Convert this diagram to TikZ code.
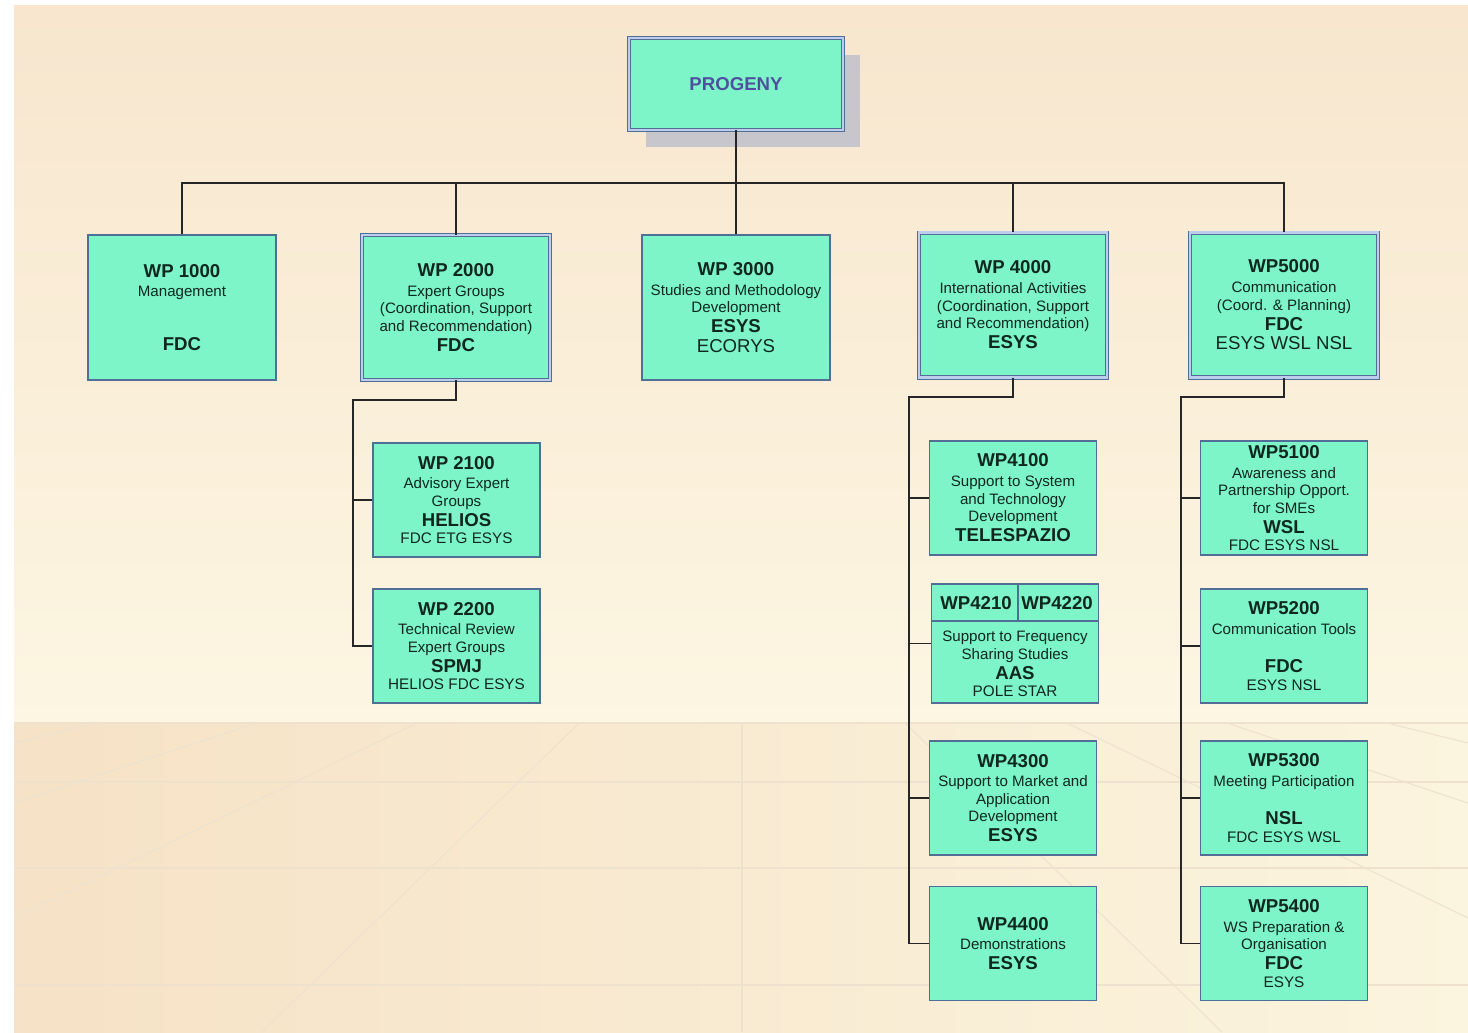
\documentclass[tikz,border=0pt]{standalone}
\usepackage{fontspec}
\setmainfont{Liberation Sans}
\usetikzlibrary{shadows}

\definecolor{bgtop}{RGB}{248,230,206}
\definecolor{bgmid}{RGB}{252,246,226}
\definecolor{floorl}{RGB}{246,226,198}
\definecolor{floorr}{RGB}{251,244,222}
\definecolor{floorline}{RGB}{238,226,206}
\definecolor{mint}{RGB}{125,245,200}
\definecolor{boxline}{RGB}{80,110,150}
\definecolor{boxgap}{RGB}{190,205,235}
\definecolor{inktext}{RGB}{15,40,30}
\definecolor{headtext}{RGB}{80,80,160}
\definecolor{shadowgray}{RGB}{200,198,205}

\newcommand{\wpbf}{\fontsize{10.6}{12}\selectfont\bfseries}
\newcommand{\wpsm}{\fontsize{8.6}{10}\selectfont}
\newcommand{\wpmd}{\fontsize{10.6}{12}\selectfont}

\begin{document}
\begin{tikzpicture}[x=0.02cm, y=-0.02cm,
    wp/.style={draw=boxline, line width=0.8pt, fill=mint, align=center,
        text=inktext, font=\wpsm, inner sep=0pt},
    wpdouble/.style={wp, line width=0.5pt, double=boxgap, double distance=1.3pt},
    topbox/.style={wp, minimum width=3.76cm, minimum height=2.9cm},
    subbox/.style={wp, minimum width=3.34cm, minimum height=2.28cm},
    link/.style={draw=black!85, line width=0.8pt},
    floor/.style={draw=floorline, line width=0.6pt}]
    \useasboundingbox (0,0) rectangle (1468,1032);

    % Background and floor
    \fill[white] (0,0) rectangle (1468,1032);
    \shade[top color=bgtop, bottom color=bgmid] (14,5) rectangle (1468,723);
    \shade[left color=floorl, right color=floorr] (14,723) rectangle (1468,1032);
    \foreach \fy in {723,782,868,985}
        \draw[floor] (14,\fy) -- (1468,\fy);
    \draw[floor] (742,723) -- (742,1032);
    \draw[floor] (417,723) -- (14,918);
    \draw[floor] (579,723) -- (262,1032);
    \draw[floor] (257,723) -- (14,803);
    \draw[floor] (97,723) -- (14,743);
    \draw[floor] (1067,723) -- (1468,918);
    \draw[floor] (905,723) -- (1222,1032);
    \draw[floor] (1227,723) -- (1468,803);
    \draw[floor] (1387,723) -- (1468,743);

    % Project box
    \node[wpdouble, minimum width=4.28cm, minimum height=1.84cm,
        font=\wpbf, text=headtext,
        drop shadow={shadow xshift=0.34cm, shadow yshift=-0.34cm,
            fill=shadowgray, opacity=1}] (progeny) at (736,84) {PROGENY};

    % First level work packages
    \node[topbox] (wp1000) at (182,307.5)
        {\wpbf WP 1000\\[1.3pt] Management\\[20.6pt] \wpbf FDC};
    \node[topbox, wpdouble] (wp2000) at (456,307.5)
        {\wpbf WP 2000\\[1.3pt] Expert Groups\\ (Coordination, Support\\
         and Recommendation)\\[1.3pt] \wpbf FDC};
    \node[topbox] (wp3000) at (736,307.5)
        {\wpbf WP 3000\\[1.3pt] Studies and Methodology\\ Development\\[1.3pt]
         \wpbf ESYS\\[1.3pt] \wpmd ECORYS};
    \node[topbox, wpdouble] (wp4000) at (1013,305)
        {\wpbf WP 4000\\[1.3pt] International Activities\\ (Coordination, Support\\
         and Recommendation)\\[1.3pt] \wpbf ESYS};
    \node[topbox, wpdouble] (wp5000) at (1284,305)
        {\wpbf WP5000\\[1.3pt] Communication\\ (Coord. \& Planning)\\[1.3pt]
         \wpbf FDC\\[1.3pt] \wpmd ESYS WSL NSL};

    % WP 2000 children
    \node[subbox] (wp2100) at (456.5,500)
        {\wpbf WP 2100\\[1.3pt] Advisory Expert\\ Groups\\[1.3pt]
         \wpbf HELIOS\\ \fontsize{8.7}{10}\selectfont FDC ETG ESYS};
    \node[subbox] (wp2200) at (456.5,646)
        {\wpbf WP 2200\\[1.3pt] Technical Review\\ Expert Groups\\[1.3pt]
         \wpbf SPMJ\\ \fontsize{8.7}{10}\selectfont HELIOS FDC ESYS};

    % WP 4000 children
    \node[subbox] (wp4100) at (1013,498)
        {\wpbf WP4100\\[1.3pt] Support to System\\ and Technology\\ Development\\[1.3pt]
         \wpbf TELESPAZIO};
    \node[subbox, minimum height=2.38cm] (wp42) at (1015,643.5) {};
    \coordinate (hdr) at (1018,621);
    \draw[draw=boxline, line width=0.8pt] (wp42.west |- hdr) -- (wp42.east |- hdr);
    \draw[draw=boxline, line width=0.8pt] (hdr) -- (hdr |- wp42.north);
    \node[font=\wpbf, text=inktext] (wp4210) at (976,603) {WP4210};
    \node[font=\wpbf, text=inktext] (wp4220) at (1057,603) {WP4220};
    \node[font=\wpsm, text=inktext, align=center, inner sep=0pt] (wp42txt) at (1015,664)
        {Support to Frequency\\ Sharing Studies\\[1.3pt] \wpbf AAS\\
         \fontsize{8.7}{10}\selectfont POLE STAR};
    \node[subbox] (wp4300) at (1013,798)
        {\wpbf WP4300\\[1.3pt] Support to Market and\\ Application\\ Development\\[1.3pt]
         \wpbf ESYS};
    \node[subbox] (wp4400) at (1013,943.5)
        {\wpbf WP4400\\[1.3pt] Demonstrations\\[1.3pt] \wpbf ESYS};

    % WP5000 children
    \node[subbox] (wp5100) at (1284,498)
        {\wpbf WP5100\\[1.3pt] Awareness and\\ Partnership Opport.\\ for SMEs\\[1.3pt]
         \wpbf WSL\\ \fontsize{8.7}{10}\selectfont FDC ESYS NSL};
    \node[subbox] (wp5200) at (1284,646)
        {\wpbf WP5200\\[1.3pt] Communication Tools\\[12pt]
         \wpbf FDC\\ \fontsize{8.7}{10}\selectfont ESYS NSL};
    \node[subbox] (wp5300) at (1284,798)
        {\wpbf WP5300\\[1.3pt] Meeting Participation\\[12pt]
         \wpbf NSL\\ \fontsize{8.7}{10}\selectfont FDC ESYS WSL};
    \node[subbox] (wp5400) at (1284,943.5)
        {\wpbf WP5400\\[1.3pt] WS Preparation \&\\ Organisation\\[1.3pt]
         \wpbf FDC\\ \fontsize{8.7}{10}\selectfont ESYS};

    % Connectors, first level
    \coordinate (bus) at (736,183);
    \draw[link] (wp1000.north) |- (bus) -| (wp5000.north);
    \draw[link] (progeny.south) -- (wp3000.north);
    \draw[link] (wp2000.north) -- (wp2000.north |- bus);
    \draw[link] (wp4000.north) -- (wp4000.north |- bus);

    % Connectors, second level
    \coordinate (sp2) at (353,400);
    \draw[link] (wp2000.south) |- (sp2) |- (wp2200.west);
    \draw[link] (sp2 |- wp2100.west) -- (wp2100.west);

    \coordinate (sp4) at (909,397);
    \draw[link] (wp4000.south) |- (sp4) |- (wp4400.west);
    \foreach \n in {wp4100,wp42,wp4300}
        \draw[link] (sp4 |- \n.west) -- (\n.west);

    \coordinate (sp5) at (1181,397);
    \draw[link] (wp5000.south) |- (sp5) |- (wp5400.west);
    \foreach \n in {wp5100,wp5200,wp5300}
        \draw[link] (sp5 |- \n.west) -- (\n.west);
\end{tikzpicture}
\end{document}
